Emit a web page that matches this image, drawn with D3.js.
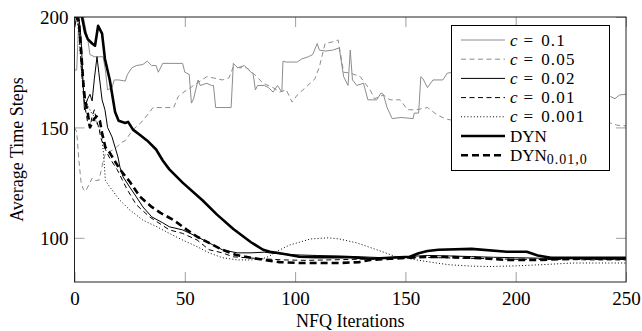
<!DOCTYPE html>
<html><head><meta charset="utf-8">
<script src="https://cdn.jsdelivr.net/npm/d3@7"></script>
<style>body{margin:0;background:#fff}svg text{font-family:"Liberation Serif","DejaVu Serif",serif;fill:#000}</style>
</head><body><svg id="c" width="642" height="331"></svg>
<script>
// ---- data: [iteration, average time steps] ----
const c0100 = [[0,176],[1,176],[2,200],[3,205],[4,200],[5,195],[6,190],[7,183],[9,182],[13,182],[14,176],[15,167],[17,168],[18,171.5],[20,171.5],[23,171],[24,174],[26,177],[28,178],[31,178.5],[33,180],[35,178],[37,178],[38,175],[40,179],[45,179],[49,179],[50,175],[52,174],[53,161],[54,163],[56,171.5],[57,169],[60,170],[62,169],[63,169],[64,159],[66,159],[71,159],[72,179],[74,177],[77,178],[79,176],[81,174],[82,167],[83,169],[86,169],[88,168],[90,166],[92,169],[94,166],[94.5,180],[96,179.6],[101,179.6],[103,181],[106,182],[108,183],[110,188],[111,185],[114,184.6],[117,185],[120,186],[122,173],[124,169],[125,185],[126,171.5],[128,169],[131,170],[133,162.5],[137,162.5],[139,165.6],[140,165],[141.7,159],[144,154],[148,154.5],[153.5,154],[154,156.5],[156,156.5],[157,173],[158,172],[160,168],[162.5,171.5],[167,171.5],[169,174.6],[172,175],[175,174],[180,176],[190,172],[200,168],[210,170],[220,166],[230,168],[240,165],[243,164],[245,163],[247,164.7],[250,165]];
const c0050 = [[0,150],[1,148],[2,135],[3,125],[4,122],[5,121],[6,123],[7,125],[8,127],[9,126],[11,126],[12,130],[13,135],[14,138],[16,139],[19,141],[21,143],[23,144],[26.5,149],[30,152],[33,155.6],[35.6,159],[40,159],[45,159],[47,164],[49,165.6],[51,167],[54,169],[57,171],[60,173],[63,172.4],[67,171.5],[70,172.4],[72,177.4],[75,177],[78,177],[81,174.6],[85.5,170],[90,168],[93,166],[96,167],[98.6,161.5],[101,164.7],[105,168.3],[109,172],[111,177.4],[113.6,188],[116.8,188.7],[119.5,189.6],[122,175],[125,174.6],[129.5,173],[134,167],[136,163],[140,164.7],[143,162.5],[147.6,162.5],[151,158],[155,158],[160,159],[164.5,155.6],[168,154],[172,153],[180,153],[195,155],[210,152],[225,154],[240,152],[243,152],[246,151],[250,150.7]];
const c0020 = [[0,195],[1,200],[2,200],[3,190],[4,168],[4.5,158],[5,160],[6,163],[7,165],[8,162],[9,172],[10.2,182],[11,175],[12.5,162.5],[13.8,158],[15,150],[17,145.7],[18.4,141],[19.7,136.6],[20.6,132],[22,127.6],[25,123],[28,118.6],[31,114],[35,109.5],[40,106.8],[43,105],[49,103.6],[55.6,100.5],[61,97.7],[67,94.6],[73.7,93.2],[80,93.2],[86,93.5],[90,93],[100,92.3],[110,92],[120,91.8],[130,91.4],[140,91],[150,91.5],[160,92],[170,91.8],[180,91.5],[190,91.2],[200,91],[210,90.8],[220,90.5],[230,90.5],[240,90.3],[250,90.3]];
const c0010 = [[0,200],[1,200],[2,195],[3,178],[4,165],[5,158],[6,152],[7,150],[8,155],[9,158],[10,153],[11,150],[12,145],[14,140],[16,136],[19.3,131],[23.8,122],[28,115],[34,109.5],[43,103.6],[49,102],[55.6,99],[61,94.6],[67,93.2],[72,91.4],[78,91],[85,90.5],[95,90],[105,89.8],[115,90],[125,90.2],[135,90.5],[145,91],[155,91.2],[165,91],[175,90.8],[190,90.5],[205,90.2],[220,90.2],[235,90],[250,90]];
const c0001 = [[0,200],[1,200],[2,192],[3,178],[4,168],[5,163],[6,160],[7,158],[8,156],[9,155],[10,152],[11,150],[12,148],[13,140],[14,126],[16,123],[20.6,117],[25,112.7],[31,108],[37.4,105],[43,102],[49,99],[55.6,96],[61,93.2],[67,91],[73.7,90],[80,90],[85,90.5],[88,91.5],[92,94],[97.6,96.8],[102,98],[107,99.5],[115,100],[120,99.5],[128,97.7],[137,94.6],[146,91.4],[155,90],[164,88.6],[170,87.8],[180,87.2],[188,87],[200,87.3],[211,87.8],[226,88.6],[250,88.6]];
const dyn = [[0,200],[1,205],[2,205],[3.4,200],[4.8,193],[6,190],[8,188],[9.3,187],[10.7,196],[12.5,192.5],[13.8,181],[16,171.5],[18.4,157],[20,153],[23,152],[24.3,152.5],[26.5,149],[29.7,146.6],[33,144],[37,140],[40,135],[43,131],[49,125],[58,117],[64.6,110.5],[72,104],[80,98],[85.5,94.6],[88.6,93.7],[93,93],[97,92.3],[102,91.4],[110,91.2],[125,91.2],[134,90.5],[143,91],[152,91.4],[156,93],[160,94],[165,94.6],[180,95],[196,93.7],[205,93.7],[210,92],[216,91],[226,91],[250,91]];
const dynSub = [[0,200],[1,200],[2,198],[3,185],[4,170],[4.7,163],[6,156.6],[7,150],[8,152],[9,154],[10,155],[11.5,153],[12.5,147.5],[14,141],[16,138.5],[17.5,136],[20.6,131],[25,125.5],[29.7,118.6],[35,114],[39,111.3],[45,108],[51,103.6],[55.6,100.5],[61,97.7],[67,94.6],[73,92.3],[80,91],[86,90],[93,89],[102,88.6],[111,88.6],[120,88.6],[129,89],[134,90],[143,90.5],[152,91],[161,91.4],[166,91.4],[180,91],[196,90],[211,90],[226,90.5],[250,90.5]];
const xTicks = [0,50,100,150,200,250];
const yTicks = [100,150,200];

const series = [
  {data:c0100, color:"#8c8c8c", w:1, dash:null, num:"0.1"},
  {data:c0050, color:"#8c8c8c", w:1, dash:"5,3.5", num:"0.05"},
  {data:c0020, color:"#000", w:1, dash:null, num:"0.02"},
  {data:c0010, color:"#000", w:1, dash:"5,3.5", num:"0.01"},
  {data:c0001, color:"#000", w:1, dash:"1,2.2", num:"0.001"},
  {data:dyn, color:"#000", w:2.6, dash:null, dyn:""},
  {data:dynSub, color:"#000", w:2.6, dash:"7,4", dyn:"0.01,0"}
];

const svg = d3.select("#c");
const L=74.5, R=626, T=17, B=282;
const x = d3.scaleLinear().domain([0,250]).range([L,R]);
const y = d3.scaleLinear().domain([80,200]).range([B,T]);

svg.append("clipPath").attr("id","clip").append("rect").attr("x",L).attr("y",T).attr("width",R-L).attr("height",B-T);

// ticks
const tickCol="#888";
const gB = svg.append("g").attr("transform",`translate(0,${B})`).call(d3.axisBottom(x).tickValues(xTicks).tickSize(-10).tickPadding(0));
gB.selectAll("text").attr("y",16).attr("dy","0.35em").style("font-size","19px");
const gT = svg.append("g").attr("transform",`translate(0,${T})`).call(d3.axisTop(x).tickValues(xTicks).tickSize(-10).tickFormat(""));
const gL = svg.append("g").attr("transform",`translate(${L},0)`).call(d3.axisLeft(y).tickValues(yTicks).tickSize(-10).tickPadding(0));
gL.selectAll("text").attr("x",-6).attr("dy","0.35em").style("font-size","19px");
const gR = svg.append("g").attr("transform",`translate(${R},0)`).call(d3.axisRight(y).tickValues(yTicks).tickSize(-10).tickFormat(""));
[gB,gT,gL,gR].forEach(g=>{g.select(".domain").remove();g.selectAll(".tick line").attr("stroke",tickCol).attr("stroke-width",0.8);g.selectAll("text").attr("font-family",null);});

const line = d3.line().x(d=>x(d[0])).y(d=>y(d[1]));
const gLines = svg.append("g").attr("clip-path","url(#clip)");
series.forEach(s=>{
  gLines.append("path").attr("d",line(s.data)).attr("fill","none").attr("stroke",s.color)
    .attr("stroke-width",s.w).attr("stroke-dasharray",s.dash).attr("stroke-linejoin","round");
});

svg.append("rect").attr("x",L).attr("y",T).attr("width",R-L).attr("height",B-T).attr("fill","none").attr("stroke","#222").attr("stroke-width",1);

// axis titles
svg.append("text").attr("x",(L+R)/2).attr("y",327).attr("text-anchor","middle").style("font-size","18px").text("NFQ Iterations");
svg.append("text").attr("transform",`translate(23,${(T+B)/2}) rotate(-90)`).attr("text-anchor","middle").style("font-size","18px").text("Average Time Steps");

// legend
const lg = svg.append("g");
lg.append("rect").attr("x",451.5).attr("y",25.5).attr("width",158).attr("height",145).attr("fill","#fff").attr("stroke","#000").attr("stroke-width",1);
series.forEach((s,i)=>{
  const cy = 40 + i*19.2;
  lg.append("line").attr("x1",461).attr("x2",505).attr("y1",cy).attr("y2",cy).attr("stroke",s.color)
    .attr("stroke-width",s.w).attr("stroke-dasharray",s.dash);
  const t = lg.append("text").attr("x",510).attr("y",cy+5.5).style("font-size","17px");
  if (s.num!==undefined){
    t.append("tspan").attr("font-style","italic").text("c");
    t.append("tspan").attr("dx",6).text("=");
    t.append("tspan").attr("dx",8).attr("letter-spacing",1.2).text(s.num);
  } else {
    t.append("tspan").text("DYN");
    if (s.dyn) t.append("tspan").attr("dy",3).style("font-size","14px").attr("letter-spacing",1).text(s.dyn);
  }
});
</script></body></html>
